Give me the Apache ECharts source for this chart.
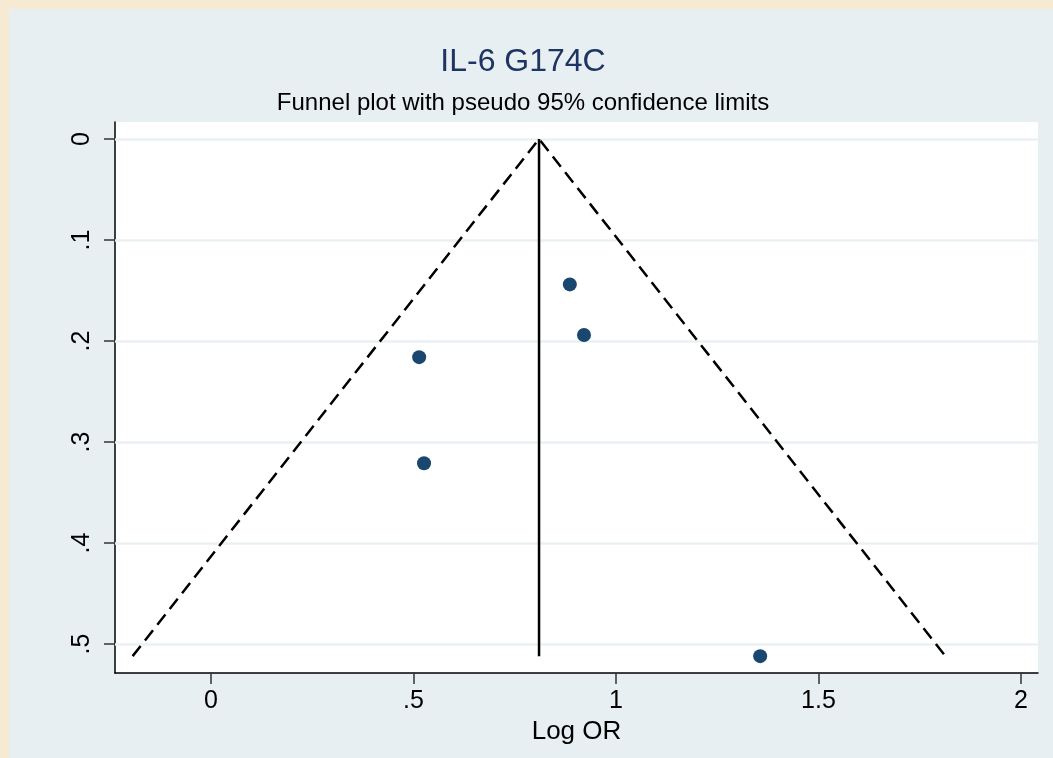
<!DOCTYPE html>
<html>
<head>
<meta charset="utf-8">
<script src="https://cdn.jsdelivr.net/npm/echarts@6/dist/echarts.min.js"></script>
<style>
  html, body { margin: 0; padding: 0; background: #e8eff2; }
  #chart { width: 1053px; height: 758px; }
</style>
</head>
<body>
<div id="chart"></div>
<script>
// study points: log OR and its standard error
var logOR = [0.886, 0.921, 0.514, 0.526, 1.356];
var seLogOR = [0.144, 0.194, 0.216, 0.321, 0.512];
// pooled estimate and largest s.e. (funnel apex / base)
var pooled = 0.81;
var maxSE = 0.512;
// tick labels
var xTicks = [0, 0.5, 1, 1.5, 2];
var yTicks = [0, 0.1, 0.2, 0.3, 0.4, 0.5];

var lo = pooled - 1.96 * maxSE;
var hi = pooled + 1.96 * maxSE;

function fmt(v) {
    var s = String(v);
    return s.indexOf('0.') === 0 ? s.slice(1) : s;
}

var points = [];
for (var i = 0; i < logOR.length; i++) {
    points.push([logOR[i], seLogOR[i]]);
}

var chart = echarts.init(document.getElementById('chart'));
var option = {
    backgroundColor: '#e8eff2',
    animation: false,
    title: [{
        text: 'IL-6 G174C',
        left: 518, top: 41, textAlign: 'center',
        textStyle: { fontFamily: 'Liberation Sans', fontSize: 32, fontWeight: 'normal', color: '#1e3462' }
    }, {
        text: 'Funnel plot with pseudo 95% confidence limits',
        left: 518, top: 86, textAlign: 'center',
        textStyle: { fontFamily: 'Liberation Sans', fontSize: 24, fontWeight: 'normal', color: '#000' }
    }],
    graphic: [
        { type: 'rect', z: 100, shape: { x: 0, y: 0, width: 1053, height: 9 }, style: { fill: '#f6ebd2' } },
        { type: 'rect', z: 100, shape: { x: 0, y: 0, width: 9, height: 758 }, style: { fill: '#f6ebd2' } }
    ],
    grid: {
        left: 115, right: 15, top: 122, bottom: 85,
        outerBoundsMode: 'none',
        containLabel: false,
        show: true, backgroundColor: '#ffffff', borderWidth: 0
    },
    xAxis: {
        type: 'value',
        min: -0.237, max: 2.042,
        name: 'Log OR',
        nameLocation: 'middle',
        nameGap: 45,
        nameTextStyle: { fontFamily: 'Liberation Sans', fontSize: 26, color: '#000' },
        axisLine: { onZero: false, lineStyle: { color: '#000', width: 1.5 } },
        axisTick: { customValues: xTicks, length: 11, lineStyle: { color: '#333', width: 1.5 } },
        axisLabel: { customValues: xTicks, margin: 16, formatter: fmt, fontFamily: 'Liberation Sans', fontSize: 25, color: '#000' },
        splitLine: { show: false }
    },
    yAxis: {
        type: 'value',
        inverse: true,
        min: -0.0168, max: 0.5287,
        name: 's.e. of: logOR',
        nameLocation: 'middle',
        nameGap: 115,
        nameRotate: 90,
        nameTextStyle: { fontFamily: 'Liberation Sans', fontSize: 24, color: '#000' },
        axisLine: { onZero: false, lineStyle: { color: '#000', width: 1.5 } },
        axisTick: { customValues: yTicks, length: 11, lineStyle: { color: '#333', width: 1.5 } },
        axisLabel: { customValues: yTicks, rotate: 90, margin: 20, formatter: fmt, fontFamily: 'Liberation Sans', fontSize: 25, color: '#000' },
        splitLine: { show: false }
    },
    series: [{
        type: 'line',
        data: [],
        silent: true,
        z: 1,
        markLine: {
            silent: true,
            symbol: 'none',
            z: 1,
            label: { show: false },
            lineStyle: { color: '#eaf0f3', width: 2.5, type: 'solid' },
            data: yTicks.map(function (v) { return { yAxis: v }; })
        }
    }, {
        name: 'limits',
        type: 'line',
        z: 3,
        data: [[lo, maxSE], [pooled, 0], [hi, maxSE]],
        symbol: 'none',
        lineStyle: { color: '#000', width: 2.5, type: [13, 7] }
    }, {
        name: 'pooled',
        type: 'line',
        z: 3,
        data: [[pooled, 0], [pooled, maxSE]],
        symbol: 'none',
        lineStyle: { color: '#000', width: 2.5 }
    }, {
        name: 'studies',
        type: 'scatter',
        z: 5,
        data: points,
        symbolSize: 14,
        itemStyle: { color: '#1a476f', opacity: 1 }
    }]
};
chart.setOption(option);
</script>
</body>
</html>
